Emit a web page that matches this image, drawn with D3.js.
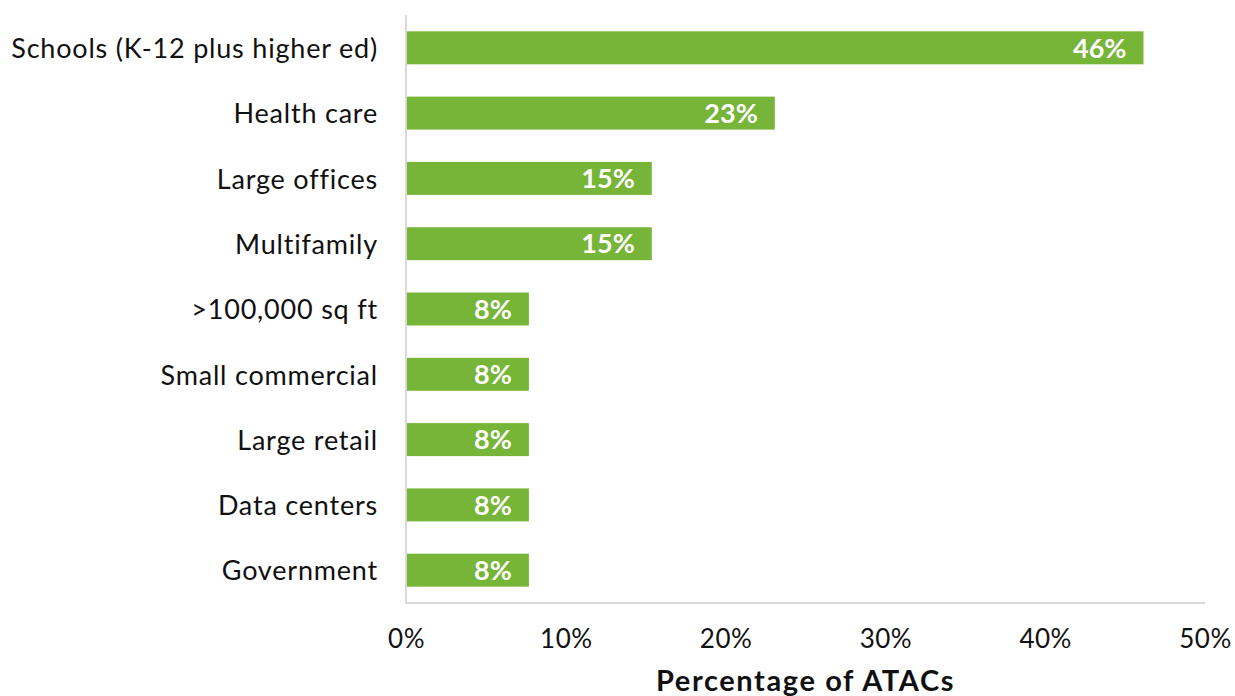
<!DOCTYPE html>
<html>
<head>
<meta charset="utf-8">
<script src="https://cdn.jsdelivr.net/npm/d3@7"></script>
<style>
  html, body { margin: 0; padding: 0; background: #ffffff; }
  svg { display: block; }
  svg text { font-family: "Gill Sans", "Gill Sans MT", Lato, "Open Sans", sans-serif; }
</style>
</head>
<body>
<svg id="chart" width="1235" height="696"></svg>
<script>
// Building types, top to bottom
const categories = [
  "Schools (K-12 plus higher ed)",
  "Health care",
  "Large offices",
  "Multifamily",
  ">100,000 sq ft",
  "Small commercial",
  "Large retail",
  "Data centers",
  "Government"
];
// Share of ATACs for each building type (percent)
const shares = [46.15, 23.08, 15.38, 15.38, 7.69, 7.69, 7.69, 7.69, 7.69];
// X axis ticks (percent)
const xTicks = [0, 10, 20, 30, 40, 50];
const xTitle = "Percentage of ATACs";

const svg = d3.select("#chart");
const margin = { top: 15, right: 30, bottom: 93, left: 406 };
const W = 1235, H = 696;

const x = d3.scaleLinear().domain([0, 50]).range([margin.left, W - margin.right]);
const y = d3.scaleBand().domain(categories).range([margin.top, H - margin.bottom]).paddingInner(0.495).paddingOuter(0.25);

const barColor = "#76b537";
const axisColor = "#d9d9d9";
const textColor = "#111111";

// Bars
svg.append("g").selectAll("rect")
  .data(categories)
  .join("rect")
  .attr("x", x(0))
  .attr("y", d => y(d))
  .attr("width", (d, i) => x(shares[i]) - x(0))
  .attr("height", y.bandwidth())
  .attr("fill", barColor);

// Value labels inside bar ends
svg.append("g").selectAll("text")
  .data(categories)
  .join("text")
  .attr("x", (d, i) => x(shares[i]) - 17)
  .attr("y", d => y(d) + y.bandwidth() / 2)
  .attr("dy", "0.36em")
  .attr("text-anchor", "end")
  .attr("fill", "#ffffff")
  .attr("font-weight", "bold")
  .attr("font-size", 27)
  .text((d, i) => Math.round(shares[i]) + "%");

// Category axis
const yAxis = svg.append("g")
  .attr("transform", `translate(${x(0)},0)`)
  .call(d3.axisLeft(y).tickSize(0).tickPadding(28));
yAxis.attr("font-family", null).attr("font-size", null);
yAxis.select(".domain").remove();
yAxis.selectAll("text")
  .attr("font-size", 27)
  .attr("letter-spacing", 0.8)
  .attr("dy", "0.38em")
  .attr("fill", textColor);
svg.append("line")
  .attr("x1", x(0)).attr("x2", x(0))
  .attr("y1", margin.top).attr("y2", H - margin.bottom + 1)
  .attr("stroke", axisColor).attr("stroke-width", 2);

// Value axis
const xAxis = svg.append("g")
  .attr("transform", `translate(0,${H - margin.bottom})`)
  .call(d3.axisBottom(x).tickValues(xTicks).tickFormat(d => d + "%").tickSize(0).tickPadding(27));
xAxis.attr("font-family", null).attr("font-size", null);
xAxis.select(".domain").remove();
xAxis.selectAll("text")
  .attr("font-size", 26)
  .attr("letter-spacing", 0.5)
  .attr("fill", textColor);
svg.append("line")
  .attr("x1", x(0) - 1).attr("x2", x(50))
  .attr("y1", H - margin.bottom).attr("y2", H - margin.bottom)
  .attr("stroke", axisColor).attr("stroke-width", 2);

// Axis title
svg.append("text")
  .attr("x", (x(0) + x(50)) / 2)
  .attr("y", 691)
  .attr("text-anchor", "middle")
  .attr("font-weight", "bold")
  .attr("font-size", 29)
  .attr("letter-spacing", 1.6)
  .attr("fill", textColor)
  .text(xTitle);
</script>
</body>
</html>
